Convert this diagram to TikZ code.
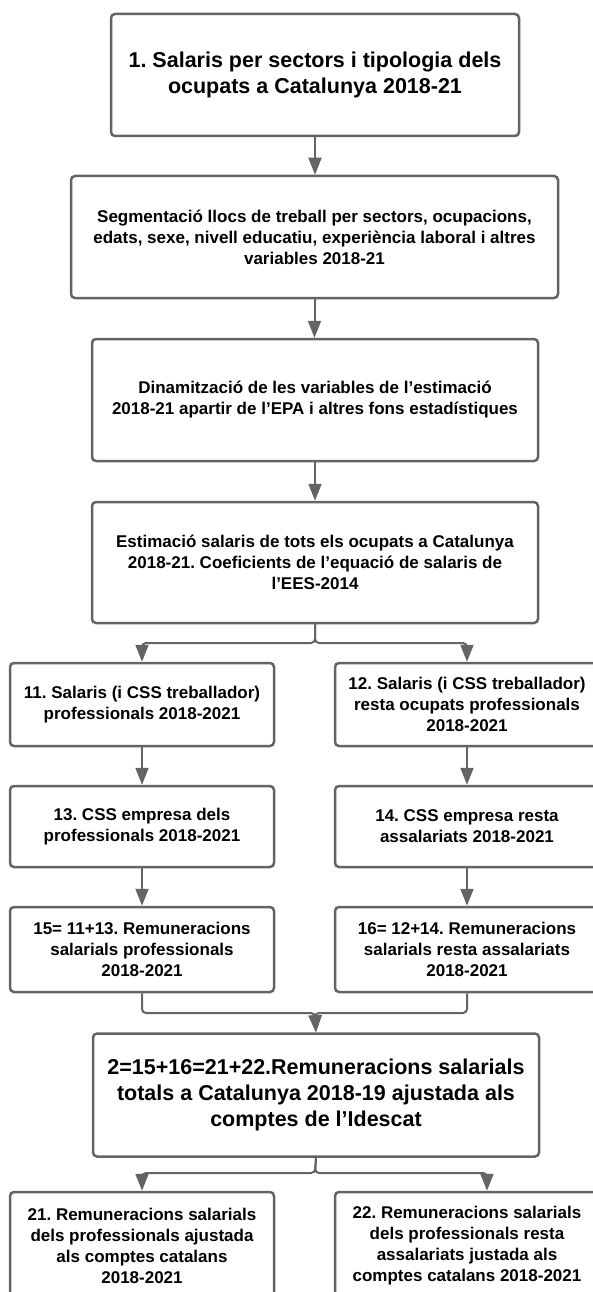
\documentclass[tikz,border=0pt]{standalone}
\usepackage{fontspec}
\setmainfont{Liberation Sans}
\usetikzlibrary{arrows.meta}

\definecolor{linegray}{HTML}{646464}

\tikzset{
  box/.style    ={draw=linegray, line width=2.5pt, rounded corners=4pt, fill=white, align=center, inner sep=2pt,
                  font=\bfseries\fontsize{17}{21}\selectfont},
  bigbox/.style ={box, font=\bfseries\fontsize{21.5}{26}\selectfont},
  col/.style    ={box, minimum width=264pt},
  flow/.style   ={draw=linegray, line width=2pt, rounded corners=4pt, -{Triangle[length=17pt,width=13pt]}}
}

\begin{document}
\frenchspacing
\begin{tikzpicture}[x=1pt, y=-1pt]
    \useasboundingbox (0,0) rectangle (592,1292);

    % main column
    \node[bigbox, minimum width=408pt, minimum height=122pt] (sal) at (315,75)
      {1. Salaris per sectors i tipologia dels\\ocupats a Catalunya 2018-21};
    \node[box, minimum width=487pt, minimum height=122pt] (seg) at (314.5,237)
      {Segmentació llocs de treball per sectors, ocupacions,\\edats, sexe, nivell educatiu, experiència laboral i altres\\variables 2018-21};
    \node[box, minimum width=446pt, minimum height=122pt] (din) at (315,400)
      {Dinamització de les variables de l’estimació\\2018-21 apartir de l’EPA i altres fons estadístiques};
    \node[box, minimum width=446pt, minimum height=121pt] (est) at (315,562.5)
      {Estimació salaris de tots els ocupats a Catalunya\\2018-21. Coeficients de l’equació de salaris de\\l’EES-2014};

    % left and right columns
    \node[col, minimum height=83pt] (s11) at (142,704.5) {11. Salaris (i CSS treballador)\\professionals 2018-2021};
    \node[col, minimum height=83pt] (s12) at (467,704.5) {12. Salaris (i CSS treballador)\\resta ocupats professionals\\2018-2021};
    \node[col, minimum height=81pt] (c13) at (142,826.5) {13. CSS empresa dels\\professionals 2018-2021};
    \node[col, minimum height=81pt] (c14) at (467,826.5) {14. CSS empresa resta\\assalariats 2018-2021};
    \node[col, minimum height=85pt] (r15) at (142,949.5) {15= 11+13. Remuneracions\\salarials professionals\\2018-2021};
    \node[col, minimum height=85pt] (r16) at (467,949.5) {16= 12+14. Remuneracions\\salarials resta assalariats\\2018-2021};

    % total
    \node[bigbox, minimum width=446pt, minimum height=123pt] (tot) at (316,1095)
      {2=15+16=21+22.Remuneracions salarials\\totals a Catalunya 2018-19 ajustada als\\comptes de l’Idescat};

    % adjusted to the accounts
    \node[col, minimum height=108pt] (a21) at (142,1246) {21. Remuneracions salarials\\dels professionals ajustada\\als comptes catalans\\2018-2021};
    \node[col, minimum height=108pt] (a22) at (467,1246) {22. Remuneracions salarials\\dels professionals resta\\assalariats justada als\\comptes catalans 2018-2021};

    \coordinate (split1) at (315,643);
    \coordinate (merge)  at (315,1013);
    \coordinate (split2) at (315,1173);

    % connectors
    \draw[flow] (sal.south) -- (sal.south |- seg.north);
    \draw[flow] (seg.south) -- (seg.south |- din.north);
    \draw[flow] (din.south) -- (est.north);
    \draw[flow] (est.south) -- (split1) -| (s11.north);
    \draw[flow] (est.south) -- (split1) -| (s12.north);
    \draw[flow] (s11) -- (c13);
    \draw[flow] (s12) -- (c14);
    \draw[flow] (c13) -- (r15);
    \draw[flow] (c14) -- (r16);
    \draw[flow] (r15.south) |- (merge) -- (tot.north);
    \draw[flow] (r16.south) |- (merge) -- (tot.north);
    \draw[flow] (tot.south) -- (split2) -| (a21.north);
    \draw[flow] (tot.south) -- (split2) -| ([xshift=20pt]a22.north);
  \end{tikzpicture}
\end{document}
